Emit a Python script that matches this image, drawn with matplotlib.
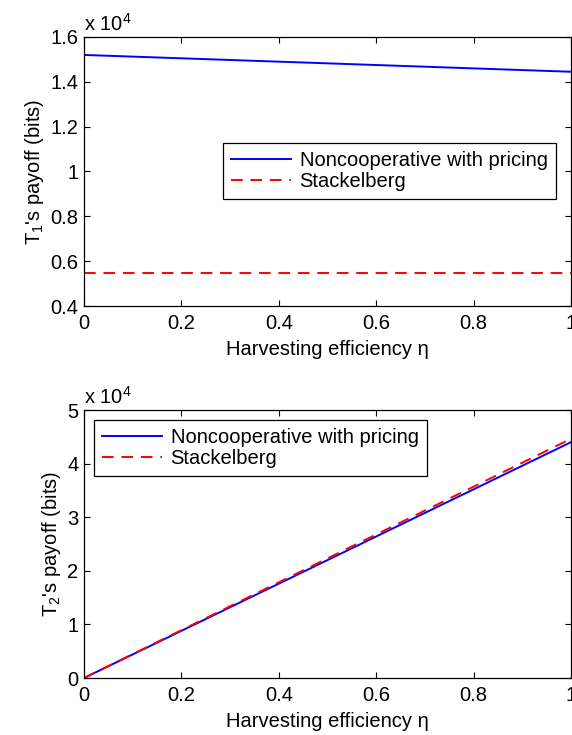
import matplotlib
matplotlib.use("Agg")
import matplotlib.pyplot as plt
from matplotlib.ticker import FuncFormatter

plt.rcParams['font.family'] = ['Liberation Sans', 'DejaVu Sans']
plt.rcParams['mathtext.fontset'] = 'custom'
plt.rcParams['mathtext.rm'] = 'Liberation Sans'
plt.rcParams['mathtext.it'] = 'Liberation Sans'

eta = [0.0, 0.1, 0.2, 0.3, 0.4, 0.5, 0.6, 0.7, 0.8, 0.9, 1.0]
t1_noncoop = [15200, 15125, 15050, 14975, 14900, 14825, 14750, 14675, 14600, 14525, 14450]
t1_stack = [5450] * 11
t2_noncoop = [0, 4400, 8800, 13200, 17600, 22000, 26400, 30800, 35200, 39600, 44000]
t2_stack = [0, 4460, 8930, 13390, 17850, 22320, 26780, 31240, 35700, 40170, 44630]

labels = ['Noncooperative with pricing', 'Stackelberg']
fs = 14.5

fig = plt.figure(figsize=(5.72, 7.35), dpi=100)
W, H = 572, 735
ax1 = fig.add_axes([84 / W, 1 - 306 / H, (571 - 84) / W, (306 - 37) / H])
ax2 = fig.add_axes([84 / W, 1 - 678 / H, (571 - 84) / W, (678 - 410) / H])

fmt = FuncFormatter(lambda v, p: '%g' % round(v / 1e4, 6))
xfmt = FuncFormatter(lambda v, p: '%g' % round(v, 6))

def style(ax, ylim, yticks, ylabel):
    ax.set_xlim(0, 1)
    ax.set_ylim(*ylim)
    ax.set_xticks([0, 0.2, 0.4, 0.6, 0.8, 1.0])
    ax.set_yticks(yticks)
    ax.xaxis.set_major_formatter(xfmt)
    ax.yaxis.set_major_formatter(fmt)
    ax.tick_params(direction='in', top=True, right=True, labelsize=fs, length=4, width=0.8)
    ax.tick_params(axis='x', pad=6)
    ax.tick_params(axis='y', pad=4)
    for s in ax.spines.values():
        s.set_linewidth(0.9)
    ax.set_xlabel('Harvesting efficiency η', fontsize=fs, labelpad=5)
    ax.set_ylabel(ylabel, fontsize=fs, labelpad=3)
    ax.text(0, 1.01, r'x 10$^4$', transform=ax.transAxes, fontsize=fs, ha='left', va='bottom')

legkw = dict(fontsize=fs, fancybox=False, edgecolor='black', framealpha=1,
             handlelength=3.0, borderpad=0.4, labelspacing=0.1, handletextpad=0.4,
             borderaxespad=0)

ax1.plot(eta, t1_noncoop, color='#0000ff', lw=1.4, label=labels[0])
ax1.plot(eta, t1_stack, color='#ff0000', lw=1.4, ls=(0, (6, 4)), label=labels[1])
style(ax1, (4000, 16000), [4000, 6000, 8000, 10000, 12000, 14000, 16000], "T$_1$'s payoff (bits)")
leg1 = ax1.legend(loc='upper left', bbox_to_anchor=((223 - 84) / 487, 1 - (143 - 37) / 269), **legkw)
leg1.get_frame().set_linewidth(0.9)

ax2.plot(eta, t2_noncoop, color='#0000ff', lw=1.4, label=labels[0])
ax2.plot(eta, t2_stack, color='#ff0000', lw=1.4, ls=(0, (6, 4)), label=labels[1])
style(ax2, (0, 50000), [0, 10000, 20000, 30000, 40000, 50000], "T$_2$'s payoff (bits)")
leg2 = ax2.legend(loc='upper left', bbox_to_anchor=((94 - 84) / 487, 1 - (420 - 410) / 268), **legkw)
leg2.get_frame().set_linewidth(0.9)

fig.savefig('out.png', dpi=100)
